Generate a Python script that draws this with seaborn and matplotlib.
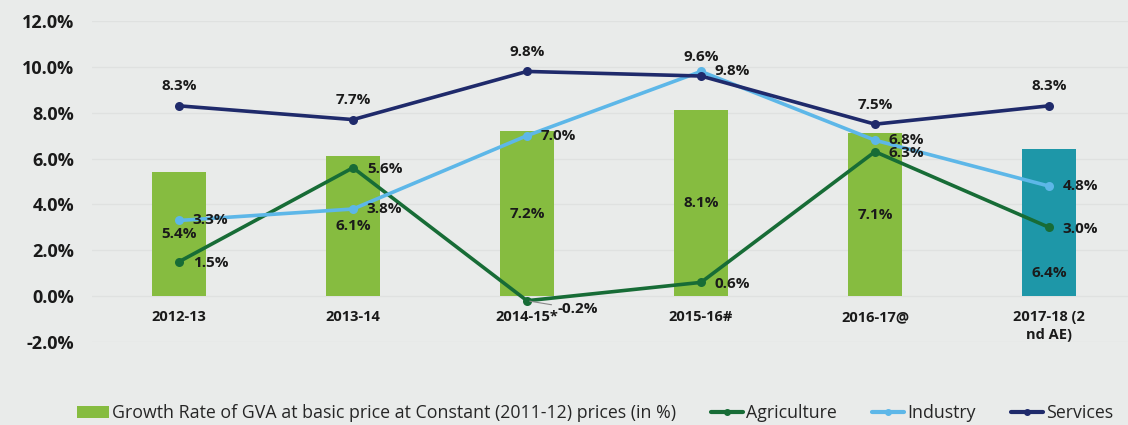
import numpy as np
import pandas as pd
import matplotlib
matplotlib.use("Agg")
import matplotlib.pyplot as plt
import seaborn as sns
from matplotlib.lines import Line2D
from matplotlib.patches import Patch

categories = ["2012-13", "2013-14", "2014-15*", "2015-16#", "2016-17@", "2017-18 (2\nnd AE)"]
gva = [5.4, 6.1, 7.2, 8.1, 7.1, 6.4]
agriculture = [1.5, 5.6, -0.2, 0.6, 6.3, 3.0]
industry = [3.3, 3.8, 7.0, 9.8, 6.8, 4.8]
services = [8.3, 7.7, 9.8, 9.6, 7.5, 8.3]
bar_colors = ["#86bc40", "#86bc40", "#86bc40", "#86bc40", "#86bc40", "#1e97a8"]

BG = "#e9ebea"
sns.set_theme(style="white")
plt.rcParams['font.family'] = ['Open Sans', 'DejaVu Sans']

fig = plt.figure(figsize=(11.28, 4.25), dpi=100, facecolor=BG)
ax = fig.add_axes([92/1128, 83/425, (1128-92)/1128, (342-21)/425])
ax.set_facecolor(BG)

df = pd.DataFrame({"cat": categories, "gva": gva})
sns.barplot(data=df, x="cat", y="gva", hue="cat", palette=bar_colors, legend=False,
            width=0.31, ax=ax, saturation=1, zorder=2, edgecolor="none", linewidth=0)

x = np.arange(len(categories))
AGR, IND, SER = "#176c36", "#5db7e8", "#1f2a6b"
for vals, c in [(agriculture, AGR), (industry, IND), (services, SER)]:
    sns.lineplot(x=x, y=vals, color=c, lw=2.6, marker="o", markersize=6.5,
                 markeredgewidth=0, ax=ax, zorder=3)

ax.spines["bottom"].set_position(("data", 0))
ax.set_xlim(-0.5, 5.454)
ax.set_ylim(-2, 12)
ax.set_yticks(np.arange(-2, 13, 2))
ax.set_yticklabels([f"{v:.1f}%" for v in np.arange(-2, 13, 2)], fontsize=13, fontweight="bold", color="#1a1a1a")
ax.set_xticks(x)
ax.set_xticklabels(categories, fontsize=10.5, fontweight="bold", color="#1a1a1a", linespacing=1.35)
ax.tick_params(axis="y", length=0, pad=13)
ax.tick_params(axis="x", length=0, pad=10)
ax.set_xlabel("")
ax.set_ylabel("")
for s in ax.spines.values():
    s.set_visible(False)
ax.yaxis.grid(True, color="#dfe1e0", lw=1, zorder=0)
ax.set_axisbelow(True)

lab = dict(fontsize=11, fontweight="bold", color="#1a1a1a", zorder=5)
# bar labels (centered)
for i, v in enumerate(gva):
    yy = v / 2 if i < 5 else 1.0
    ax.text(i, yy, f"{v:.1f}%", ha="center", va="center", **lab)
# services above
for i, v in enumerate(services):
    ax.annotate(f"{v:.1f}%", (i, v), xytext=(0, 14), textcoords="offset points", ha="center", va="center", **lab)
# industry right
for i, v in enumerate(industry):
    ax.annotate(f"{v:.1f}%", (i, v), xytext=(10, 0), textcoords="offset points", ha="left", va="center", **lab)
# agriculture right
for i, v in enumerate(agriculture):
    if v < 0:
        ax.annotate(f"{v:.1f}%", (i, v), xytext=(22, -6), textcoords="offset points", ha="left", va="center",
                    arrowprops=dict(arrowstyle="-", color="#888888", lw=0.8), **lab)
    else:
        ax.annotate(f"{v:.1f}%", (i, v), xytext=(10, -1), textcoords="offset points", ha="left", va="center", **lab)

handles = [Patch(facecolor="#86bc40", edgecolor="none"),
           Line2D([0], [0], color=AGR, lw=3, marker="o", markersize=4),
           Line2D([0], [0], color=IND, lw=3, marker="o", markersize=4),
           Line2D([0], [0], color=SER, lw=3, marker="o", markersize=4)]
labels = ["Growth Rate of GVA at basic price at Constant (2011-12) prices (in %)",
          "Agriculture", "Industry", "Services"]
fig.legend(handles, labels, loc="center left", bbox_to_anchor=(70/1128, 12/425), ncol=4,
           frameon=False, handlelength=1.8, handletextpad=0.15, columnspacing=2.0,
           borderaxespad=0, borderpad=0.4,
           prop={"family": ["Open Sans", "DejaVu Sans"], "size": 12.8})

fig.savefig("out.png", dpi=100, facecolor=BG)
